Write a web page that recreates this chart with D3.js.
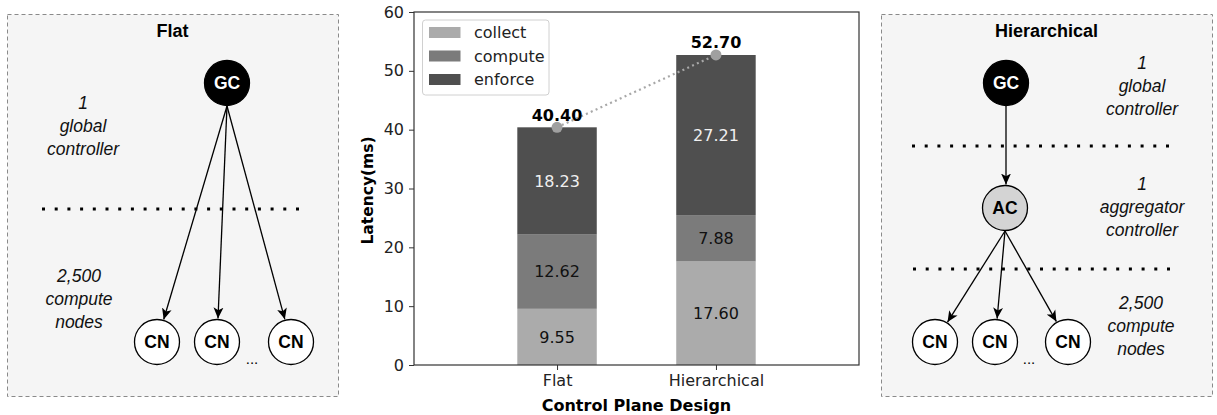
<!DOCTYPE html>
<html><head><meta charset="utf-8">
<script src="https://cdn.jsdelivr.net/npm/d3@7"></script>
<style>body{margin:0;background:#fff}svg{display:block}</style>
</head><body>
<svg id="c" width="1217" height="415"></svg>
<script>
const categories = ["Flat", "Hierarchical"];
const seriesNames = ["collect", "compute", "enforce"];
const collect = [9.55, 17.60];
const compute = [12.62, 7.88];
const enforce = [18.23, 27.21];
const totals = [40.40, 52.70];
const yTicks = [0, 10, 20, 30, 40, 50, 60];
const colors = ["#ababab", "#7b7b7b", "#4f4f4f"];

const svg = d3.select("#c");
const chartFont = "DejaVu Sans, sans-serif";
const diagFont = "Liberation Sans, Arial, sans-serif";

// ---------- chart ----------
const L = 414, R = 859, T = 12, B = 365;
const x = d3.scaleLinear().domain([-0.9, 1.9]).range([L, R]);
const y = d3.scaleLinear().domain([0, 60]).range([B, T]);
const bw = 0.5;
const series = [collect, compute, enforce];
const g = svg.append("g");

categories.forEach((c, i) => {
  let base = 0;
  series.forEach((s, k) => {
    const v = s[i];
    g.append("rect").attr("x", x(i - bw/2)).attr("width", x(i + bw/2) - x(i - bw/2))
      .attr("y", y(base + v)).attr("height", y(base) - y(base + v)).attr("fill", colors[k]);
    g.append("text").attr("x", x(i)).attr("y", y(base + v/2)).attr("dy", "0.36em")
      .attr("text-anchor", "middle").attr("font-family", chartFont).attr("font-size", 16)
      .attr("fill", k === 2 ? "#f0f0f0" : "#111").text(v.toFixed(2));
    base += v;
  });
});

// dotted total line + markers
g.append("path").attr("d", d3.line().x((d, i) => x(i)).y(d => y(d))(totals))
  .attr("fill", "none").attr("stroke", "#a8a8a8").attr("stroke-width", 2.2)
  .attr("stroke-dasharray", "2,3.3");
totals.forEach((t, i) => {
  g.append("circle").attr("cx", x(i)).attr("cy", y(t)).attr("r", 5.5).attr("fill", "#a0a0a0");
  g.append("text").attr("x", x(i)).attr("y", y(t) - 6.5).attr("text-anchor", "middle")
    .attr("font-family", chartFont).attr("font-size", 16).attr("font-weight", "bold")
    .attr("fill", "#000").text(t.toFixed(2));
});

// axes
const yAxis = g.append("g").attr("transform", `translate(${L},0)`)
  .call(d3.axisLeft(y).tickValues(yTicks).tickSize(5).tickPadding(5));
const xAxis = g.append("g").attr("transform", `translate(0,${B})`)
  .call(d3.axisBottom(x).tickValues([0, 1]).tickFormat(d => categories[d]).tickSize(5).tickPadding(5));
[yAxis, xAxis].forEach(a => {
  a.select(".domain").remove();
  a.selectAll("text").attr("font-family", chartFont).attr("font-size", 16).attr("fill", "#222");
  a.selectAll("line").attr("stroke", "#333");
});
g.append("rect").attr("x", L).attr("y", T).attr("width", R - L).attr("height", B - T)
  .attr("fill", "none").attr("stroke", "#333").attr("stroke-width", 1.2);

g.append("text").attr("transform", `translate(373,${(T+B)/2 + 2}) rotate(-90)`)
  .attr("text-anchor", "middle").attr("font-family", chartFont).attr("font-size", 15.5)
  .attr("font-weight", "bold").text("Latency(ms)");
g.append("text").attr("x", (L+R)/2).attr("y", 411).attr("text-anchor", "middle")
  .attr("font-family", chartFont).attr("font-size", 16).attr("font-weight", "bold")
  .text("Control Plane Design");

// legend
const lg = g.append("g");
lg.append("rect").attr("x", 422.5).attr("y", 20).attr("width", 126.5).attr("height", 75)
  .attr("rx", 3).attr("fill", "#fff").attr("fill-opacity", 0.8).attr("stroke", "#d0d0d0");
seriesNames.forEach((n, k) => {
  const cy = 32.5 + k * 23.5;
  lg.append("rect").attr("x", 429).attr("y", cy - 5.5).attr("width", 31.5).attr("height", 11).attr("fill", colors[k]);
  lg.append("text").attr("x", 474).attr("y", cy).attr("dy", "0.36em")
    .attr("font-family", chartFont).attr("font-size", 16).attr("fill", "#222").text(n);
});

// ---------- diagrams ----------
const defs = svg.append("defs");
defs.append("marker").attr("id", "ah").attr("viewBox", "0 0 10 10").attr("refX", 10).attr("refY", 5)
  .attr("markerWidth", 11).attr("markerHeight", 11).attr("markerUnits", "userSpaceOnUse")
  .attr("orient", "auto")
  .append("path").attr("d", "M0,0.5 L10,5 L0,9.5 L2.5,5 Z").attr("fill", "#000");

function panel(x0, y0, x1, y1, title) {
  svg.append("rect").attr("x", x0 + 0.5).attr("y", y0 + 0.5).attr("width", x1 - x0).attr("height", y1 - y0)
    .attr("fill", "#f5f5f5").attr("stroke", "#8a8a8a").attr("stroke-dasharray", "4,3");
  svg.append("text").attr("x", (x0 + x1) / 2).attr("y", 36.5).attr("text-anchor", "middle")
    .attr("font-family", diagFont).attr("font-size", 18).attr("font-weight", "bold").text(title);
}
function node(cx, cy, label, fill, tc) {
  svg.append("circle").attr("cx", cx).attr("cy", cy).attr("r", 22.5).attr("fill", fill)
    .attr("stroke", "#000").attr("stroke-width", 1.3);
  svg.append("text").attr("x", cx).attr("y", cy).attr("dy", "0.36em").attr("text-anchor", "middle")
    .attr("font-family", diagFont).attr("font-size", 17.5).attr("font-weight", "bold").attr("fill", tc).text(label);
}
function arrow(sx, sy, cx, cy) {
  const dx = cx - sx, dy = cy - sy, d = Math.hypot(dx, dy);
  const ex = cx - dx / d * 23.5, ey = cy - dy / d * 23.5;
  svg.append("line").attr("x1", sx).attr("y1", sy).attr("x2", ex).attr("y2", ey)
    .attr("stroke", "#000").attr("stroke-width", 1.3).attr("marker-end", "url(#ah)");
}
function dotted(x0, x1, yy) {
  svg.append("line").attr("x1", x0).attr("x2", x1).attr("y1", yy).attr("y2", yy)
    .attr("stroke", "#000").attr("stroke-width", 3).attr("stroke-dasharray", "3,9.7");
}
function label(cx, y0, lines) {
  lines.forEach((t, i) => svg.append("text").attr("x", cx).attr("y", y0 + i * 23).attr("text-anchor", "middle")
    .attr("font-family", diagFont).attr("font-size", 17.5).attr("font-style", "italic").attr("fill", "#111").text(t));
}
function dots(cx, cy) {
  svg.append("text").attr("x", cx).attr("y", cy).attr("text-anchor", "middle")
    .attr("font-family", diagFont).attr("font-size", 15).text("...");
}

// Flat
panel(7, 14, 338, 396, "Flat");
label(83, 109, ["1", "global", "controller"]);
label(79, 282, ["2,500", "compute", "nodes"]);
dotted(42, 308, 209);
const flatCN = [157, 217, 291];
flatCN.forEach(cx => arrow(227, 106, cx, 342));
node(227, 83, "GC", "#000", "#fff");
flatCN.forEach(cx => node(cx, 342, "CN", "#fff", "#000"));
dots(252, 364);

// Hierarchical
panel(881, 14, 1212, 396, "Hierarchical");
label(1142, 69, ["1", "global", "controller"]);
label(1142, 190, ["1", "aggregator", "controller"]);
label(1141, 309, ["2,500", "compute", "nodes"]);
dotted(912, 1178, 146);
dotted(913, 1178, 269);
arrow(1006, 106, 1006, 208);
const hierCN = [935, 995, 1068];
hierCN.forEach(cx => arrow(1005, 231, cx, 342));
node(1006, 83, "GC", "#000", "#fff");
node(1005, 208, "AC", "#d4d4d4", "#000");
hierCN.forEach(cx => node(cx, 342, "CN", "#fff", "#000"));
dots(1029, 364);
</script>
</body></html>
